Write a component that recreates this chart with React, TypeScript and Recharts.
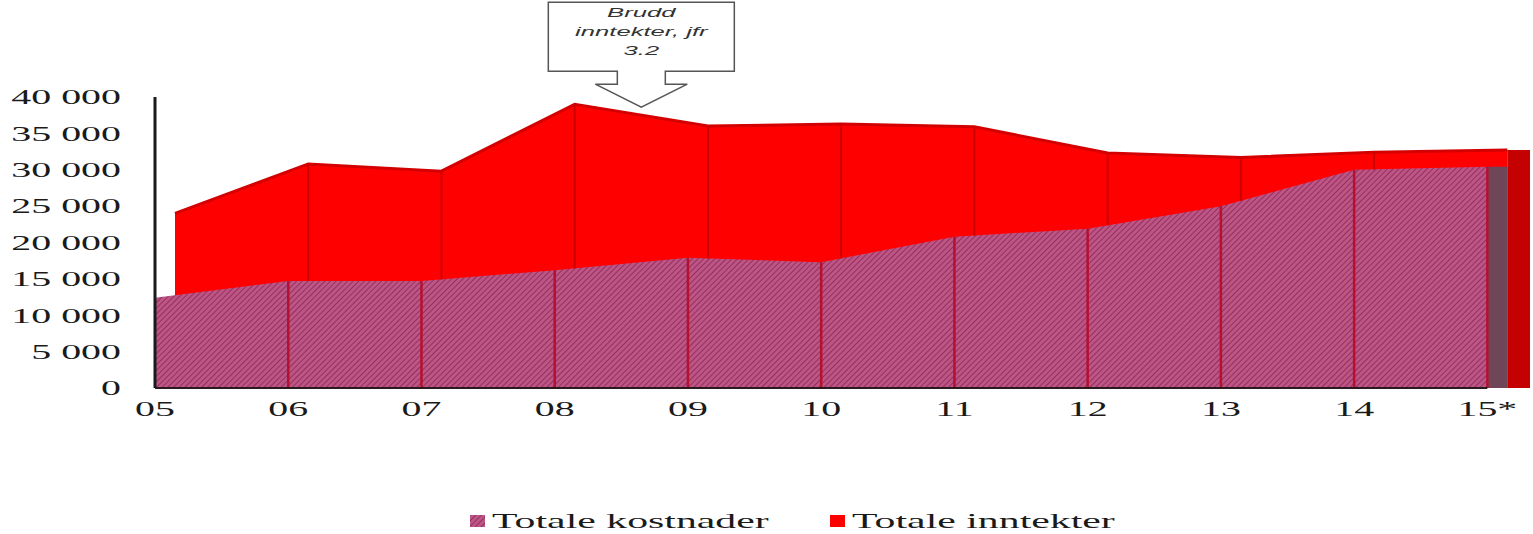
import { ComposedChart, Area, XAxis, YAxis, ReferenceLine, ReferenceArea, ReferenceDot, Legend } from 'recharts';

// Years on the x axis (15* = estimate)
const years = ['05', '06', '07', '08', '09', '10', '11', '12', '13', '14', '15*'];
const kostnader = [12400, 14700, 14700, 16200, 17900, 17300, 20800, 21900, 25000, 30000, 30400];
const inntekter = [24000, 30800, 29800, 39000, 36000, 36300, 35900, 32300, 31700, 32400, 32700];
const yTicks = [0, 5000, 10000, 15000, 20000, 25000, 30000, 35000, 40000];
const seriesNames = ['Totale kostnader', 'Totale inntekter'];
const annotationLines = ['Brudd', 'inntekter, jfr', '3.2'];
// callout points between 08 and 09, just above the peak
const annotationAt = { x: 3.65, y: 38600 };

const STRETCH = 1.9; // the source picture is stretched sideways
const DEPTH = 0.15; // 3D depth of the back series, in category units
const EXTRA = 0.32;
const last = years.length - 1;

const data = years.map((year, i) => ({ i, year, kost: kostnader[i], innt: inntekter[i] }));

const fmt = (v: number) => (v >= 1000 ? `${Math.floor(v / 1000)} ${String(v % 1000).padStart(3, '0')}` : String(v));

function YTick({ x, y, payload }: any) {
  return (
    <g transform={`translate(${x},${y}) scale(${STRETCH},1)`}>
      <text textAnchor="end" dy="0.35em" fontFamily="Liberation Serif" fontSize={21} fill="#1a1a1a">
        {fmt(payload.value)}
      </text>
    </g>
  );
}

function XTick({ x, y, payload }: any) {
  return (
    <g transform={`translate(${x},${y - 4}) scale(${STRETCH},1)`}>
      <text textAnchor="middle" fontFamily="Liberation Serif" fontSize={21} fill="#1a1a1a">
        {years[payload.value]}
      </text>
    </g>
  );
}

function Callout({ cx, cy }: any) {
  const d = `M${cx - 93},${cy - 105} H${cx + 93} V${cy - 36} H${cx + 24} V${cy - 23} H${cx + 46} L${cx},${cy} L${cx - 46},${cy - 23} H${cx - 24} V${cy - 36} H${cx - 93} Z`;
  return (
    <g>
      <path d={d} fill="#fff" stroke="#555" strokeWidth={1.5} />
      {annotationLines.map((t, k) => (
        <g key={k} transform={`translate(${cx},${cy - 90 + k * 19}) scale(${STRETCH},1)`}>
          <text textAnchor="middle" fontFamily="Liberation Sans" fontStyle="italic" fontSize={13.5} fill="#333">
            {t}
          </text>
        </g>
      ))}
    </g>
  );
}

function HatchDef({ id }: { id: string }) {
  return (
    <pattern id={id} width={4} height={4} patternUnits="userSpaceOnUse" patternTransform="rotate(45)">
      <rect width={4} height={4} fill="#bd5585" />
      <line x1={0} y1={0} x2={0} y2={4} stroke="#8e2c5a" strokeWidth={1.8} />
    </pattern>
  );
}

function LegendContent() {
  const fills = ['url(#hatchLegend)', '#ff0000'];
  const xs = [470, 830];
  return (
    <svg width={1533} height={36}>
      <defs>
        <HatchDef id="hatchLegend" />
      </defs>
      {seriesNames.map((name, k) => (
        <g key={name}>
          <rect x={xs[k]} y={17} width={15} height={12} fill={fills[k]} />
          <g transform={`translate(${xs[k] + 22},${30}) scale(${STRETCH},1)`}>
            <text fontFamily="Liberation Serif" fontSize={22} fill="#1a1a1a">
              {name}
            </text>
          </g>
        </g>
      ))}
    </svg>
  );
}

export default function App() {
  return (
    <div style={{ position: 'absolute', left: 0, top: 0, width: 1533, height: 534, background: '#fff' }}>
      <ComposedChart width={1533} height={534} data={data} margin={{ top: 97, right: 3, bottom: 80, left: 0 }}>
        <defs>
          <HatchDef id="hatch" />
        </defs>
        <XAxis
          xAxisId="front"
          type="number"
          dataKey="i"
          domain={[0, last + EXTRA]}
          ticks={years.map((_, i) => i)}
          tick={<XTick />}
          axisLine={false}
          tickLine={false}
          tickSize={0}
          height={30}
          interval={0}
        />
        <XAxis xAxisId="back" type="number" dataKey="i" domain={[-DEPTH, last + EXTRA - DEPTH]} hide />
        <YAxis
          domain={[0, 40000]}
          ticks={yTicks}
          width={155}
          tick={<YTick />}
          tickLine={false}
          tickSize={0}
          tickMargin={34}
          axisLine={{ stroke: '#1a1a1a', strokeWidth: 3 }}
          interval={0}
        />
        <Legend verticalAlign="bottom" content={<LegendContent />} wrapperStyle={{ bottom: 0, left: 0, height: 36 }} />

        <Area
          xAxisId="back"
          type="linear"
          dataKey="innt"
          name={seriesNames[1]}
          fill="#ff0000"
          fillOpacity={1}
          stroke="#d40000"
          strokeWidth={3}
          isAnimationActive={false}
        />
        <ReferenceArea xAxisId="back" x1={last} x2={last + EXTRA - DEPTH} y1={0} y2={inntekter[last]} fill="#c40000" fillOpacity={1} stroke="none" />
        {inntekter.slice(1, last).map((v, i) => {
          const k = i + 1;
          const under = kostnader[k] + DEPTH * (kostnader[k + 1] - kostnader[k]);
          return (
            <ReferenceLine
              key={`r${k}`}
              xAxisId="back"
              segment={[{ x: k, y: under }, { x: k, y: v }]}
              stroke="#cc0000"
              strokeWidth={2}
            />
          );
        })}

        <Area
          xAxisId="front"
          type="linear"
          dataKey="kost"
          name={seriesNames[0]}
          fill="url(#hatch)"
          fillOpacity={1}
          stroke="none"
          isAnimationActive={false}
        />
        <ReferenceArea xAxisId="front" x1={last} x2={last + DEPTH} y1={0} y2={kostnader[last]} fill="#6e4658" fillOpacity={1} stroke="none" />
        {kostnader.slice(1).map((v, i) => (
          <ReferenceLine
            key={`k${i}`}
            xAxisId="front"
            segment={[{ x: i + 1, y: 0 }, { x: i + 1, y: v }]}
            stroke="#b5102e"
            strokeWidth={2.5}
          />
        ))}
        <ReferenceLine xAxisId="front" segment={[{ x: 0, y: 0 }, { x: last, y: 0 }]} stroke="#2a1a20" strokeWidth={2} />
        <ReferenceDot
          xAxisId="front"
          x={annotationAt.x}
          y={annotationAt.y}
          r={0}
          shape={<Callout />}
        />
      </ComposedChart>
    </div>
  );
}
